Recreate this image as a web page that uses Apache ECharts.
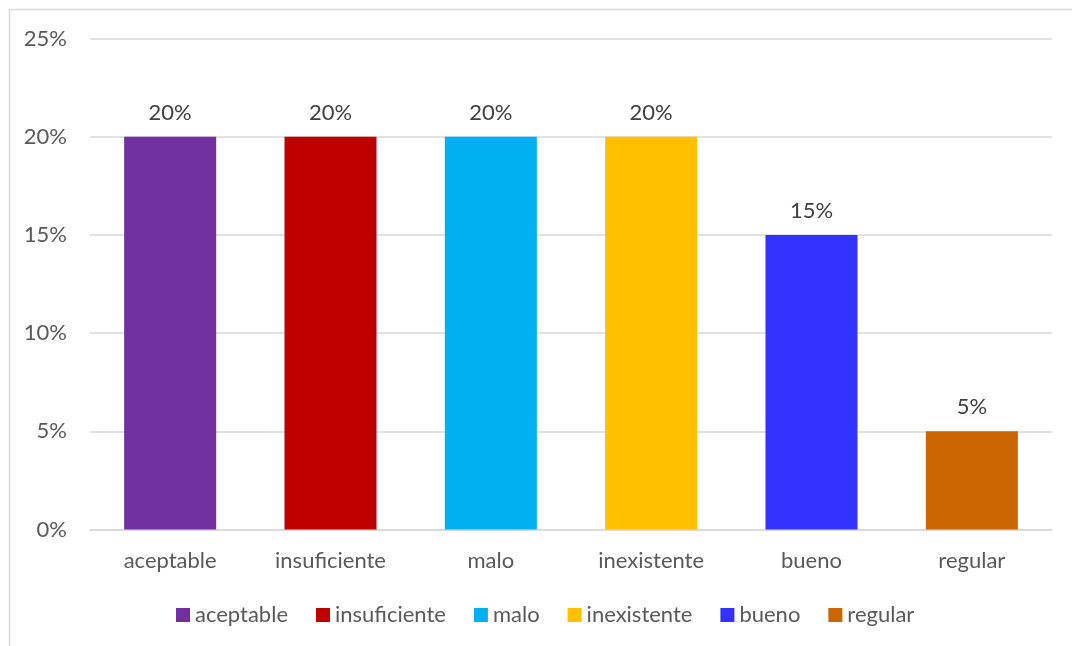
<!DOCTYPE html>
<html>
<head>
<meta charset="utf-8">
<script src="https://cdn.jsdelivr.net/npm/echarts@6/dist/echarts.min.js"></script>
<style>
  html, body { margin: 0; padding: 0; background: #ffffff; }
  #chart { width: 1072px; height: 646px; }
</style>
</head>
<body>
<div id="chart"></div>
<script>
// Rating categories and their share of responses (percent)
const categories = ['aceptable', 'insuficiente', 'malo', 'inexistente', 'bueno', 'regular'];
const values = [20, 20, 20, 20, 15, 5];
const colors = ['#7030A0', '#C00000', '#00B0F0', '#FFC000', '#3333FF', '#CC6600'];
const yTicks = { min: 0, max: 25, interval: 5 };

const FONT = 'Lato, "Open Sans", sans-serif';
const FS = 22;

// One series per category so each gets its own legend entry;
// stacking keeps each bar centred in its category slot.
const series = categories.map((name, i) => ({
  name: name,
  type: 'bar',
  stack: 'all',
  barWidth: '57.4%',
  itemStyle: { color: colors[i] },
  label: {
    show: true,
    position: 'top',
    distance: 13,
    formatter: '{c}%',
    color: '#404040',
    fontFamily: FONT,
    fontSize: FS
  },
  data: categories.map((_, j) => (j === i ? values[i] : '-'))
}));

const chart = echarts.init(document.getElementById('chart'), null, { renderer: 'canvas' });
chart.setOption({
  animation: false,
  backgroundColor: '#ffffff',
  graphic: [{
    type: 'rect',
    silent: true,
    shape: { x: 9.5, y: 9.5, width: 1200, height: 800 },
    style: { fill: 'none', stroke: '#d9d9d9', lineWidth: 1.5 }
  }],
  grid: { left: 90, right: 20, top: 38.5, bottom: 116.5, containLabel: false },
  legend: {
    left: 171,
    top: 599,
    icon: 'rect',
    itemWidth: 14,
    itemHeight: 14,
    itemGap: 28,
    textStyle: { color: '#595959', fontFamily: FONT, fontSize: FS },
    data: categories
  },
  xAxis: {
    type: 'category',
    data: categories,
    axisLine: { show: true, lineStyle: { color: '#d9d9d9', width: 1.5 } },
    axisTick: { show: false },
    axisLabel: { color: '#595959', fontFamily: FONT, fontSize: FS, margin: 20 }
  },
  yAxis: {
    type: 'value',
    min: yTicks.min,
    max: yTicks.max,
    interval: yTicks.interval,
    axisLine: { show: false },
    axisTick: { show: false },
    splitLine: { lineStyle: { color: '#d9d9d9', width: 1.5 } },
    axisLabel: { color: '#595959', fontFamily: FONT, fontSize: FS, margin: 23, formatter: '{value}%' }
  },
  series: series
});
</script>
</body>
</html>
